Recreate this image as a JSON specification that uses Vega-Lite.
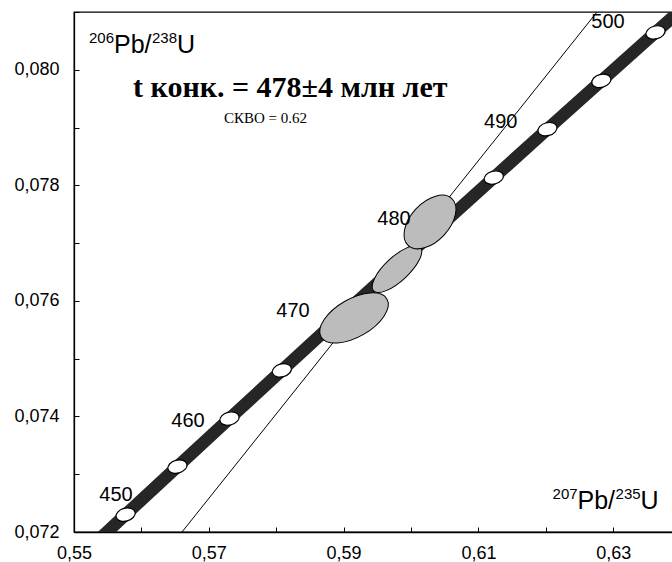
{
  "$schema": "https://vega.github.io/schema/vega-lite/v6.json",
  "width": 600,
  "height": 520,
  "autosize": {"type": "none"},
  "padding": {"left": 74, "top": 12, "right": 0, "bottom": 30},
  "background": "#ffffff",
  "config": {
    "view": {"stroke": "#000000", "strokeWidth": 1.3},
    "axis": {"grid": false, "title": null, "domainColor": "#000000", "tickColor": "#000000", "labelColor": "#000000", "labelFont": "Liberation Sans", "labelFontSize": 18, "labelOverlap": false, "labelFlush": false, "domainWidth": 1.3, "tickWidth": 1}
  },
  "datasets": {
    "concordia": [
      {"t": 445, "x": 0.550005, "y": 0.0714690},
      {"t": 450, "x": 0.557656, "y": 0.0723004},
      {"t": 455, "x": 0.565346, "y": 0.0731324},
      {"t": 460, "x": 0.573073, "y": 0.0739651},
      {"t": 465, "x": 0.580838, "y": 0.0747984},
      {"t": 470, "x": 0.588642, "y": 0.0756324},
      {"t": 475, "x": 0.596484, "y": 0.0764670},
      {"t": 480, "x": 0.604364, "y": 0.0773022},
      {"t": 485, "x": 0.612285, "y": 0.0781381},
      {"t": 490, "x": 0.620244, "y": 0.0789747},
      {"t": 495, "x": 0.628242, "y": 0.0798119},
      {"t": 500, "x": 0.636280, "y": 0.0806498},
      {"t": 505, "x": 0.644356, "y": 0.0814883}
    ],
    "ages": [
      {"label": "450", "x": 0.556231, "y": 0.072641},
      {"label": "460", "x": 0.566914, "y": 0.073922},
      {"label": "470", "x": 0.582493, "y": 0.075827},
      {"label": "480", "x": 0.597478, "y": 0.077420},
      {"label": "490", "x": 0.613309, "y": 0.079091},
      {"label": "500", "x": 0.629228, "y": 0.080823}
    ],
    "reference": [
      {"x": 0.562605, "y": 0.0715},
      {"x": 0.630988, "y": 0.0815}
    ],
    "ellipses": [
      {"id": "B", "x": 0.597923, "y": 0.076554},
      {"id": "A", "x": 0.591543, "y": 0.075706},
      {"id": "C", "x": 0.602819, "y": 0.077368}
    ],
    "ylabel": [{"x": 0.552225, "y": 0.0803}],
    "xlabel": [{"x": 0.621, "y": 0.0724}],
    "title": [{"x": 0.558754, "y": 0.079532, "text": "t конк. = 478±4 млн лет"}],
    "mswd": [{"x": 0.572255, "y": 0.079082, "text": "СКВО = 0.62"}]
  },
  "encoding": {
    "x": {"field": "x", "type": "quantitative", "scale": {"domain": [0.55, 0.639021], "nice": false, "zero": false},
      "axis": {"values": [0.55, 0.56, 0.57, 0.58, 0.59, 0.6, 0.61, 0.62, 0.63], "tickSize": -5, "labelPadding": 17,
        "labelExpr": "round(datum.value*100)%2==1 ? replace(format(datum.value, '.2f'), '.', ',') : ''"}},
    "y": {"field": "y", "type": "quantitative", "scale": {"domain": [0.072, 0.081004], "nice": false, "zero": false},
      "axis": {"values": [0.072, 0.073, 0.074, 0.075, 0.076, 0.077, 0.078, 0.079, 0.08, 0.081], "tickSize": -5, "labelPadding": 20,
        "labelExpr": "round(datum.value*1000)%2==0 ? replace(format(datum.value, '.3f'), '.', ',') : ''"}}
  },
  "layer": [
    {"data": {"name": "concordia"}, "mark": {"type": "line", "clip": true, "color": "#262626", "strokeWidth": 12.5, "strokeCap": "butt"}, "encoding": {"order": {"field": "t", "type": "quantitative"}}},
    {"data": {"name": "concordia"}, "mark": {"type": "point", "clip": true, "shape": "M-1,0A1,0.66,0,1,1,1,0A1,0.66,0,1,1,-1,0Z", "size": 380, "angle": 345, "filled": true, "fill": "#ffffff", "stroke": "#000000", "strokeWidth": 1.2, "opacity": 1}},
    {"data": {"name": "reference"}, "mark": {"type": "line", "clip": true, "color": "#000000", "strokeWidth": 1}, "encoding": {}},
    {"data": {"name": "ellipses"}, "transform": [{"filter": "datum.id == 'B'"}], "mark": {"type": "point", "shape": "M-1,0A1,0.375,0,1,1,1,0A1,0.375,0,1,1,-1,0Z", "size": 4096, "angle": 317, "filled": true, "fill": "#bcbcbc", "stroke": "#000000", "strokeWidth": 1, "opacity": 1}},
    {"data": {"name": "ellipses"}, "transform": [{"filter": "datum.id == 'A'"}], "mark": {"type": "point", "shape": "M-1,0A1,0.5,0,1,1,1,0A1,0.5,0,1,1,-1,0Z", "size": 5776, "angle": 330, "filled": true, "fill": "#bcbcbc", "stroke": "#000000", "strokeWidth": 1, "opacity": 1}},
    {"data": {"name": "ellipses"}, "transform": [{"filter": "datum.id == 'C'"}], "mark": {"type": "point", "shape": "M-1,0A1,0.6,0,1,1,1,0A1,0.6,0,1,1,-1,0Z", "size": 4096, "angle": 313, "filled": true, "fill": "#bcbcbc", "stroke": "#000000", "strokeWidth": 1, "opacity": 1}},
    {"data": {"name": "ages"}, "mark": {"type": "text", "font": "Liberation Sans", "fontSize": 20, "align": "center", "baseline": "middle", "color": "#000000"}, "encoding": {"text": {"field": "label"}}},
    {"data": {"name": "ylabel"}, "mark": {"type": "text", "font": "Liberation Sans", "fontSize": 15, "align": "left", "baseline": "alphabetic", "dx": 0, "dy": -10, "color": "#000000", "text": "206"}},
    {"data": {"name": "ylabel"}, "mark": {"type": "text", "font": "Liberation Sans", "fontSize": 25, "align": "left", "baseline": "alphabetic", "dx": 25, "color": "#000000", "text": "Pb/"}},
    {"data": {"name": "ylabel"}, "mark": {"type": "text", "font": "Liberation Sans", "fontSize": 15, "align": "left", "baseline": "alphabetic", "dx": 63, "dy": -10, "color": "#000000", "text": "238"}},
    {"data": {"name": "ylabel"}, "mark": {"type": "text", "font": "Liberation Sans", "fontSize": 25, "align": "left", "baseline": "alphabetic", "dx": 88, "color": "#000000", "text": "U"}},
    {"data": {"name": "xlabel"}, "mark": {"type": "text", "font": "Liberation Sans", "fontSize": 15, "align": "left", "baseline": "alphabetic", "dx": 0, "dy": -10, "color": "#000000", "text": "207"}},
    {"data": {"name": "xlabel"}, "mark": {"type": "text", "font": "Liberation Sans", "fontSize": 25, "align": "left", "baseline": "alphabetic", "dx": 25, "color": "#000000", "text": "Pb/"}},
    {"data": {"name": "xlabel"}, "mark": {"type": "text", "font": "Liberation Sans", "fontSize": 15, "align": "left", "baseline": "alphabetic", "dx": 63, "dy": -10, "color": "#000000", "text": "235"}},
    {"data": {"name": "xlabel"}, "mark": {"type": "text", "font": "Liberation Sans", "fontSize": 25, "align": "left", "baseline": "alphabetic", "dx": 88, "color": "#000000", "text": "U"}},
    {"data": {"name": "title"}, "mark": {"type": "text", "font": "Liberation Serif", "fontSize": 30, "fontWeight": "bold", "align": "left", "baseline": "alphabetic", "color": "#000000"}, "encoding": {"text": {"field": "text"}}},
    {"data": {"name": "mswd"}, "mark": {"type": "text", "font": "Liberation Serif", "fontSize": 15, "align": "left", "baseline": "alphabetic", "color": "#000000"}, "encoding": {"text": {"field": "text"}}}
  ]
}
